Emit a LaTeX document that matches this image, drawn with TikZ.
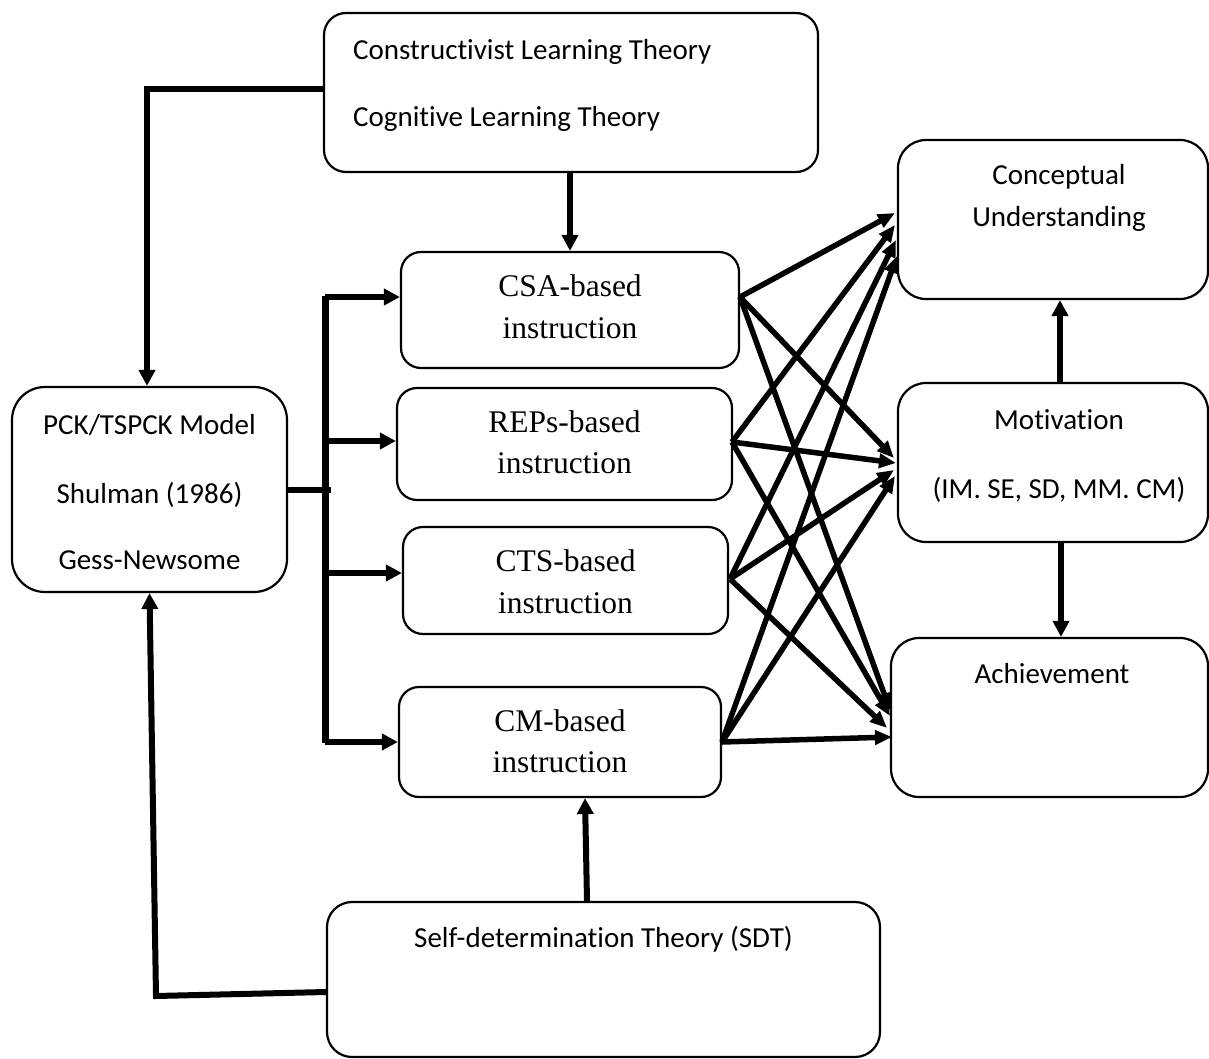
\documentclass[tikz,border=0pt]{standalone}
\usepackage{fontspec}
\setmainfont{Liberation Serif}
\newfontfamily\calfont[Ligatures=NoCommon]{Carlito}
\usetikzlibrary{arrows.meta}
\begin{document}
\begin{tikzpicture}[x=1pt,y=-1pt,
  box/.style={draw,line width=2.2pt,rounded corners=#1,inner sep=0pt},
  box/.default=20pt,
  sanstxt/.style={font=\calfont\fontsize{29}{35}\selectfont,inner sep=0pt,anchor=base},
  seriftxt/.style={font=\fontsize{31.5}{38}\selectfont,inner sep=0pt,anchor=base},
  conn/.style={line width=6pt},
  arr/.style={line width=6pt,-{Triangle[length=16pt,width=16pt]}},
  xarr/.style={line width=5.5pt,-{Triangle[length=17pt,width=14pt]}},
]
\useasboundingbox (0,0) rectangle (1209,1059);

% boxes
\node[box=22pt,minimum width=494pt,minimum height=159pt] (theory) at (571,92.5) {};
\node[box=28pt,minimum width=310pt,minimum height=159pt] (cu) at (1053,219.5) {};
\node[box=28pt,minimum width=310pt,minimum height=159pt] (mot) at (1053,462.5) {};
\node[box=28pt,minimum width=317pt,minimum height=159pt] (ach) at (1049.5,717.5) {};
\node[box=33pt,minimum width=275pt,minimum height=205pt] (pck) at (149.5,489.5) {};
\node[box,minimum width=338pt,minimum height=116pt] (csa) at (570,310) {};
\node[box,minimum width=335pt,minimum height=112pt] (reps) at (564.5,444) {};
\node[box,minimum width=325pt,minimum height=107pt] (cts) at (565.5,580.5) {};
\node[box,minimum width=322pt,minimum height=110pt] (cm) at (560,742) {};
\node[box=25pt,minimum width=553pt,minimum height=155pt] (sdt) at (603.5,979.5) {};

% texts
\node[sanstxt,anchor=base west] (t1) at (353,60) {Constructivist Learning Theory};
\node[sanstxt,anchor=base west] (t2) at (353,127) {Cognitive Learning Theory};
\node[sanstxt] (cu1) at (1059,185) {Conceptual};
\node[sanstxt] (cu2) at (1059,227) {Understanding};
\node[sanstxt] (mo1) at (1059,429) {Motivation};
\node[sanstxt] (mo2) at (1059,498) {(IM. SE, SD, MM. CM)};
\node[sanstxt] (ac1) at (1052,683) {Achievement};
\node[sanstxt] (p1) at (149.5,434) {PCK/TSPCK Model};
\node[sanstxt] (p2) at (149.5,503) {Shulman (1986)};
\node[sanstxt] (p3) at (149.5,569) {Gess-Newsome};
\node[seriftxt] (s1) at (570,296) {CSA-based};
\node[seriftxt] (s2) at (570,338) {instruction};
\node[seriftxt] (r1) at (564.5,432) {REPs-based};
\node[seriftxt] (r2) at (564.5,473) {instruction};
\node[seriftxt] (c1t) at (565.5,571) {CTS-based};
\node[seriftxt] (c2t) at (565.5,613) {instruction};
\node[seriftxt] (m1t) at (560,731) {CM-based};
\node[seriftxt] (m2t) at (560,772) {instruction};
\node[sanstxt] (sd1) at (603.5,947) {Self-determination Theory (SDT)};

% coordinates for bends and bar
\coordinate (tl) at (147,89);
\coordinate (bl) at (156,996);
\coordinate (sdtl) at (326,992);
\coordinate (bartop) at (325,296);
\coordinate (barbot) at (325,743);
\coordinate (barmid) at (331,489.5);
\coordinate (b1) at (325,297);
\coordinate (b2) at (325,441);
\coordinate (b3) at (325,573);
\coordinate (b4) at (325,742);

% left connectors
\draw[arr] (theory.west |- tl) -- (tl) -- (tl |- pck.north);
\draw[arr] (sdtl) -- (bl) -- (pck.south);
\draw[arr] (theory.south -| csa.north) -- (csa.north);
\draw[arr] ([xshift=-16.5pt]sdt.north) -- ([xshift=25pt]cm.south);
\draw[arr] ([xshift=7pt]mot.north) -- ([xshift=7pt]cu.south);
\draw[arr] ([xshift=8pt]mot.south) -- ([xshift=11.5pt]ach.north);

\draw[conn] (pck.east) -- (barmid);
\draw[line width=7pt] (bartop) -- (barbot);
\draw[arr] (b1) -- (csa.west |- b1);
\draw[arr] (b2) -- (reps.west |- b2);
\draw[arr] (b3) -- (cts.west |- b3);
\draw[arr] (b4) -- (cm.west |- b4);

% crossing arrows
\coordinate (o1) at (740,297);
\coordinate (o2) at (732,442);
\coordinate (o3) at (730,579);
\coordinate (o4) at (722,742);
\coordinate (cu1a) at (895,213);
\coordinate (cu2a) at (895,225);
\coordinate (cu3a) at (896,240);
\coordinate (cu4a) at (897,256);
\coordinate (mo1a) at (894,458);
\coordinate (mo2a) at (896,463);
\coordinate (mo3a) at (894,470);
\coordinate (mo4a) at (895,476);
\coordinate (ac1a) at (890,710);
\coordinate (ac2a) at (890,716);
\coordinate (ac3a) at (887,728);
\coordinate (ac4a) at (892,737);

\foreach \s in {1,2,3,4}{
  \draw[xarr] (o\s) -- (cu\s a);
  \draw[xarr] (o\s) -- (mo\s a);
  \draw[xarr] (o\s) -- (ac\s a);
}
\end{tikzpicture}
\end{document}
